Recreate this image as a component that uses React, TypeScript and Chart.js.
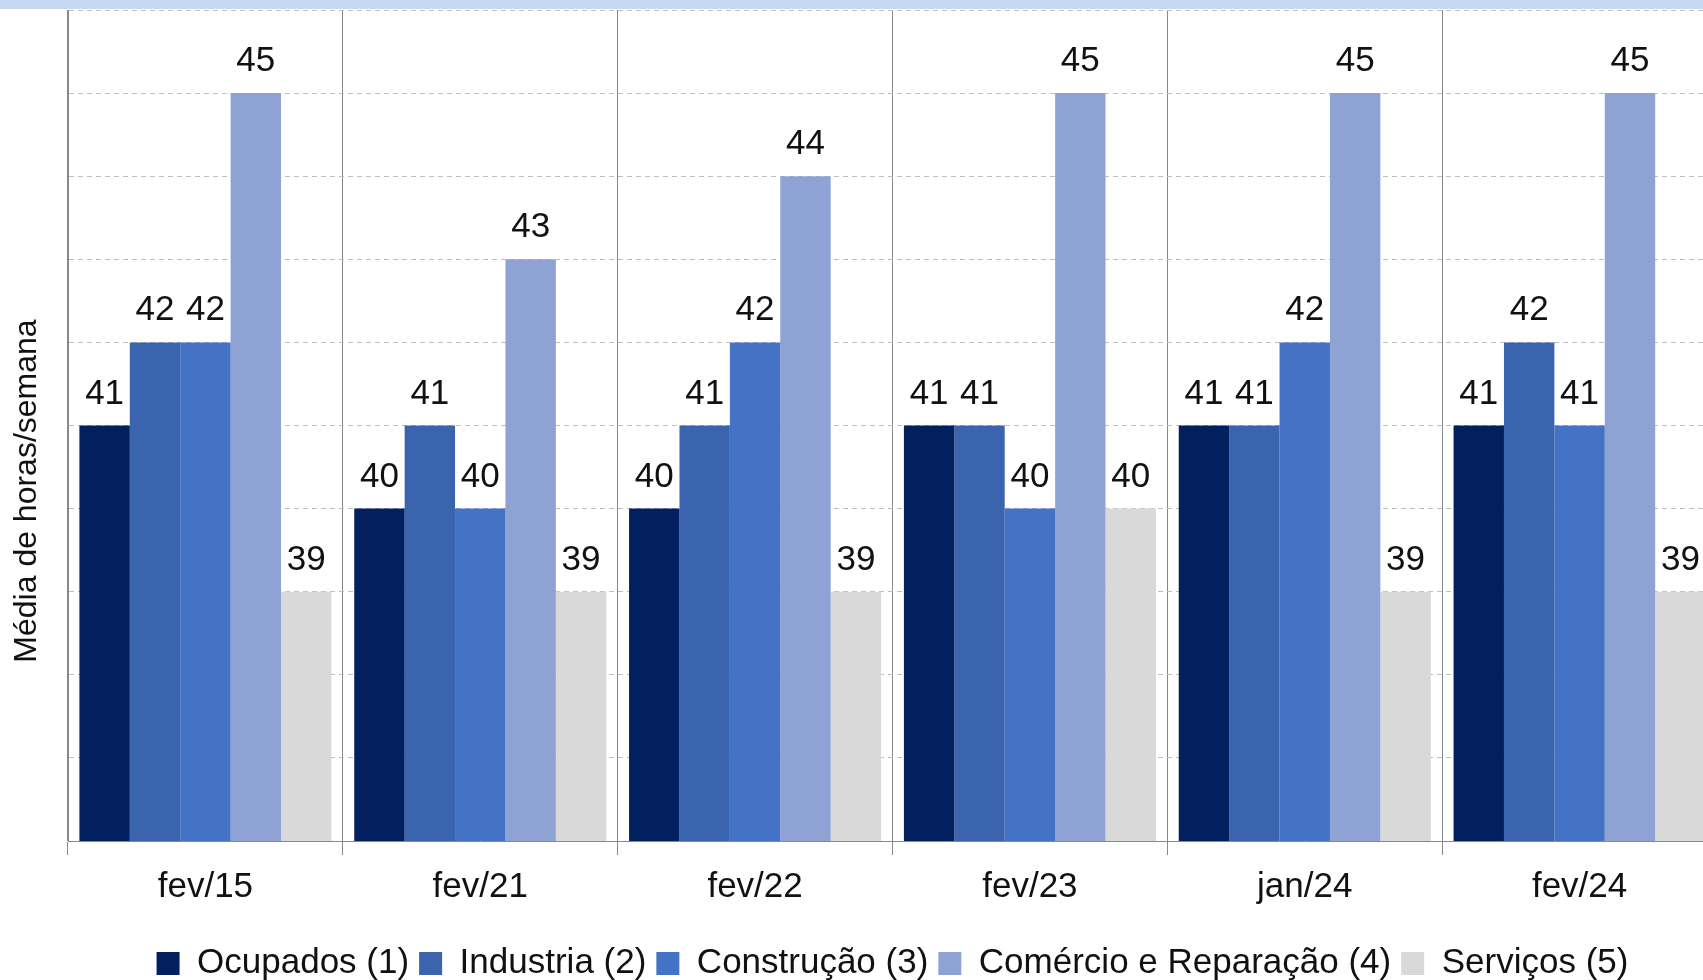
import React, { useEffect, useRef } from "react";
import { Chart, registerables } from "chart.js";

Chart.register(...registerables);

const categories = ["fev/15", "fev/21", "fev/22", "fev/23", "jan/24", "fev/24"];
const ocupados = [41, 40, 40, 41, 41, 41];
const industria = [42, 41, 41, 41, 41, 42];
const construcao = [42, 40, 42, 40, 42, 41];
const comercio = [45, 43, 44, 45, 45, 45];
const servicos = [39, 39, 39, 40, 39, 39];
const seriesNames = [
  "Ocupados (1)",
  "Industria (2)",
  "Construção (3)",
  "Comércio e Reparação (4)",
  "Serviços (5)",
];
const seriesValues = [ocupados, industria, construcao, comercio, servicos];
const seriesColors = ["#02205E", "#3A64AE", "#4472C4", "#8EA2D4", "#D9D9D9"];
const yMin = 36;
const yMax = 46;
const yTitle = "Média de horas/semana";

const FONT = "'Liberation Sans', Arial, sans-serif";

const topBand = {
  id: "topBand",
  beforeDraw(chart: any) {
    const ctx = chart.ctx;
    ctx.save();
    ctx.fillStyle = "#ffffff";
    ctx.fillRect(0, 0, chart.width, chart.height);
    ctx.fillStyle = "#C6D9F1";
    ctx.fillRect(0, 0, chart.width, 9);
    ctx.restore();
  },
};

const valueLabels = {
  id: "valueLabels",
  afterDatasetsDraw(chart: any) {
    const ctx = chart.ctx;
    ctx.save();
    ctx.font = `35px ${FONT}`;
    ctx.fillStyle = "#111111";
    ctx.textAlign = "center";
    ctx.textBaseline = "alphabetic";
    chart.data.datasets.forEach((ds: any, di: number) => {
      const meta = chart.getDatasetMeta(di);
      meta.data.forEach((bar: any, i: number) => {
        ctx.fillText(String(ds.data[i]), bar.x, bar.y - 22);
      });
    });
    ctx.restore();
  },
};

const yTitlePlugin = {
  id: "yTitlePlugin",
  afterDraw(chart: any) {
    const ctx = chart.ctx;
    ctx.save();
    ctx.translate(36, 491);
    ctx.rotate(-Math.PI / 2);
    ctx.font = `32px ${FONT}`;
    ctx.fillStyle = "#111111";
    ctx.textAlign = "center";
    ctx.textBaseline = "alphabetic";
    ctx.fillText(yTitle, 0, 0);
    ctx.restore();
  },
};

export default function App() {
  const ref = useRef<HTMLCanvasElement | null>(null);
  useEffect(() => {
    const canvas = ref.current;
    if (!canvas) return;
    const chart = new Chart(canvas, {
      type: "bar",
      data: {
        labels: categories,
        datasets: seriesNames.map((name, i) => ({
          label: name,
          data: seriesValues[i],
          backgroundColor: seriesColors[i],
          borderWidth: 0,
          categoryPercentage: 0.917,
          barPercentage: 1.0,
        })),
      },
      options: {
        responsive: false,
        animation: false,
        devicePixelRatio: 1,
        layout: { padding: { left: 68, right: 65, top: 10, bottom: 1 } },
        plugins: {
          legend: {
            position: "bottom",
            labels: {
              boxWidth: 23,
              boxHeight: 23,
              padding: 10,
              color: "#111111",
              font: { family: FONT, size: 35 },
            },
          },
          tooltip: { enabled: false },
          title: { display: false },
        },
        scales: {
          x: {
            grid: {
              offset: true,
              color: "#888888",
              lineWidth: 1,
              drawTicks: true,
              tickLength: 14,
              tickColor: "#888888",
            },
            border: { display: true, color: "#888888", width: 1 },
            ticks: {
              color: "#111111",
              font: { family: FONT, size: 35 },
              padding: 11,
              maxRotation: 0,
              autoSkip: false,
            },
            afterFit: (scale: any) => {
              scale.height += 17;
            },
          },
          y: {
            min: yMin,
            max: yMax,
            ticks: { display: false, stepSize: 1 },
            grid: {
              drawTicks: false,
              color: (c: any) =>
                c.tick && c.tick.value === yMin ? "rgba(0,0,0,0)" : "#BFBFBF",
              lineWidth: 1,
            },
            border: { display: true, color: "#888888", width: 1, dash: [5, 4] },
            title: { display: false },
          },
        },
      },
      plugins: [topBand, valueLabels, yTitlePlugin],
    });
    return () => chart.destroy();
  }, []);

  return (
    <div
      style={{
        position: "fixed",
        left: 0,
        top: 0,
        width: 1703,
        height: 980,
        overflow: "hidden",
        background: "#ffffff",
      }}
    >
      <canvas
        ref={ref}
        width={1782}
        height={992}
        style={{ width: "1782px", height: "992px", display: "block" }}
      />
    </div>
  );
}
